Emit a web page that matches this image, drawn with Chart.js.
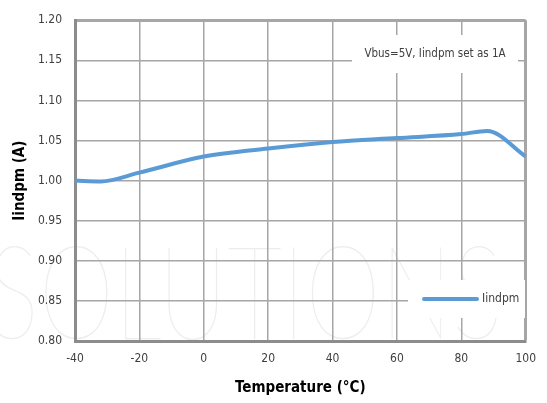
<!DOCTYPE html>
<html>
<head>
<meta charset="utf-8">
<script src="https://cdn.jsdelivr.net/npm/chart.js@4/dist/chart.umd.min.js"></script>
<style>
  html, body { margin: 0; padding: 0; background: #fff; }
  #wrap { width: 547px; height: 403px; }
</style>
</head>
<body>
<div id="wrap"><canvas id="iindpmChart" width="547" height="403"></canvas></div>
<script>
// Datos de la curva (temperatura en °C, corriente en A)
const temps = [-40, -32, -20, 0, 20, 40, 60, 80, 88, 100];
const iindpm = [1.000, 0.999, 1.010, 1.030, 1.040, 1.048, 1.053, 1.058, 1.062, 1.030];

const seriesLabel = 'Iindpm';
const noteText = 'Vbus=5V, Iindpm set as 1A';
const xTitle = 'Temperature (°C)';
const yTitle = 'Iindpm (A)';
const watermarkText = 'SOLUTIONS';

const FONT = "'DejaVu Sans Condensed', 'Liberation Sans Narrow', sans-serif";
const LINE_COLOR = '#5b9bd5';
const GRID_COLOR = '#a6a6a6';
const FRAME_COLOR = '#8c8c8c';

// Marca de agua tenue al fondo
const watermarkPlugin = {
    id: 'watermark',
    beforeDraw(chart) {
        const ctx = chart.ctx;
        ctx.save();
        ctx.fillStyle = '#fff';
        ctx.fillRect(0, 0, chart.width, chart.height);
        ctx.font = "100 130px Lato, 'DejaVu Sans', sans-serif";
        const w = ctx.measureText(watermarkText).width;
        ctx.translate(-12, 339);
        ctx.scale(515 / w, 1);
        ctx.fillStyle = '#ededed';
        ctx.textBaseline = 'alphabetic';
        ctx.fillText(watermarkText, 0, 0);
        ctx.restore();
    }
};

// Recuadro de nota y leyenda dibujados dentro del área del gráfico
const boxesPlugin = {
    id: 'boxes',
    afterDatasetsDraw(chart) {
        const ctx = chart.ctx;
        const ds = chart.data.datasets[0];
        ctx.save();

        // Nota
        ctx.fillStyle = '#fff';
        ctx.fillRect(352, 35, 166, 38);
        ctx.fillStyle = '#404040';
        ctx.font = "11.5px " + FONT;
        ctx.textAlign = 'center';
        ctx.textBaseline = 'middle';
        ctx.fillText(noteText, 435, 54);

        // Leyenda
        ctx.fillStyle = '#fff';
        ctx.fillRect(408, 280, 117, 38);
        ctx.strokeStyle = ds.borderColor;
        ctx.lineWidth = 4;
        ctx.lineCap = 'round';
        ctx.beginPath();
        ctx.moveTo(424, 299);
        ctx.lineTo(477, 299);
        ctx.stroke();
        ctx.fillStyle = '#404040';
        ctx.font = "12px " + FONT;
        ctx.textAlign = 'left';
        ctx.fillText(ds.label, 482, 299);

        ctx.restore();
    }
};

const ctx = document.getElementById('iindpmChart').getContext('2d');
const chart = new Chart(ctx, {
    type: 'line',
    data: {
        datasets: [{
            label: seriesLabel,
            data: temps.map((t, i) => ({ x: t, y: iindpm[i] })),
            borderColor: LINE_COLOR,
            borderWidth: 4,
            pointRadius: 0,
            fill: false,
            cubicInterpolationMode: 'monotone'
        }]
    },
    options: {
        responsive: false,
        animation: false,
        layout: { padding: { top: 14, right: 16, left: 0, bottom: 0 } },
        plugins: {
            legend: { display: false },
            tooltip: { enabled: false }
        },
        scales: {
            x: {
                type: 'linear',
                min: -40,
                max: 100,
                afterFit(scale) { scale.height = 62; },
                ticks: {
                    stepSize: 20,
                    padding: 11,
                    color: '#404040',
                    font: { family: FONT, size: 12 }
                },
                grid: {
                    drawTicks: false,
                    color: GRID_COLOR,
                    lineWidth: c => (c.index === 7 ? 3 : 1.5)
                },
                border: { display: true, color: FRAME_COLOR, width: 3 },
                title: {
                    display: true,
                    text: xTitle,
                    color: '#000',
                    font: { family: FONT, size: 15, weight: 'bold' },
                    padding: { top: 0, bottom: 6 }
                }
            },
            y: {
                min: 0.8,
                max: 1.2,
                afterFit(scale) { scale.width = 75; },
                ticks: {
                    stepSize: 0.05,
                    padding: 13,
                    color: '#404040',
                    font: { family: FONT, size: 12 },
                    callback: v => v.toFixed(2)
                },
                grid: {
                    drawTicks: false,
                    color: GRID_COLOR,
                    lineWidth: c => (c.index === 8 ? 3 : 1.5)
                },
                border: { display: true, color: FRAME_COLOR, width: 3 },
                title: {
                    display: true,
                    text: yTitle,
                    color: '#000',
                    font: { family: FONT, size: 15, weight: 'bold' },
                    padding: { top: 11, bottom: 4 }
                }
            }
        }
    },
    plugins: [watermarkPlugin, boxesPlugin]
});
</script>
</body>
</html>
